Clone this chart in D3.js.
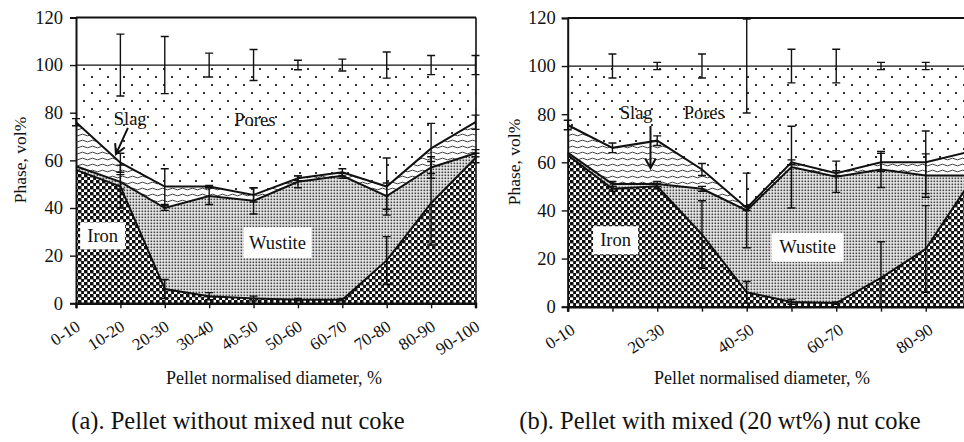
<!DOCTYPE html>
<html>
<head>
<meta charset="utf-8">
<script src="https://cdn.jsdelivr.net/npm/d3@7/dist/d3.min.js"></script>
<style>
  html, body { margin: 0; padding: 0; background: #fff; }
  svg { display: block; }
  text { font-family: "Liberation Serif", "Times New Roman", serif; fill: #111; }
</style>
</head>
<body>
<svg id="chart" width="964" height="442"></svg>
<script>
// ---------------- DATA ----------------
const categories = ["0-10","10-20","20-30","30-40","40-50","50-60","60-70","70-80","80-90","90-100"];
const yTickValues = [0, 20, 40, 60, 80, 100, 120];
const xTickLabelsA = ["0-10","10-20","20-30","30-40","40-50","50-60","60-70","70-80","80-90","90-100"];
const xTickLabelsB = ["0-10","","20-30","","40-50","","60-70","","80-90",""];

// (a) pellet without mixed nut coke — phase vol%
const ironA    = [56, 49, 6, 3, 2, 1.5, 1.5, 18, 42, 61];
const wustiteA = [1.5, 2, 34, 42, 41, 49.5, 52, 27, 15, 2];
const slagA    = [18.5, 8, 9, 4, 2.5, 1.5, 1.5, 4, 8, 13];
const poresA   = [24, 41, 51, 51, 54.5, 47.5, 45, 51, 35, 24];
const errIronA    = [null, 9, 4, 1.5, 1, 0.5, 0.5, 10, 17.5, 2];
const errWustiteA = [null, 3, 1, 3.5, 5.5, 2.5, 1, 5.5, 4.5, 1.5];
const errSlagA    = [1.5, 4, 7.5, 0.5, 3, 1, 1.5, 12, 10.5, 3];
const errPoresA   = [null, 13, 12, 5, 6.5, 2, 2.5, 5.5, 4, 4];

// (b) pellet with mixed (20 wt%) nut coke — phase vol%
const ironB    = [63, 49, 50, 30, 6, 2, 1.5, 12, 24, 52];
const wustiteB = [1, 2, 1, 19, 34, 56, 52.5, 45, 30.5, 2.5];
const slagB    = [11.5, 15, 18, 8, 1, 2, 1.5, 3, 5.5, 10];
const poresB   = [24.5, 34, 31, 43, 59, 40, 44.5, 40, 40, 35.5];
const errIronB    = [null, 1, 1, 14, 4.5, 1, 0.5, 15, 18, 2];
const errWustiteB = [null, 1, 1, 1, 15.5, 17, 6.5, 7.5, 9, 2];
const errSlagB    = [2, 2, 2, 2.5, 1, 1, 1, 3.7, 13, 2];
const errPoresB   = [null, 5, 1.5, 5, 19.5, 7, 7, 1.5, 1.5, 2];

const annotationsA = [
  {text: "Slag",    xi: 1.22, v: 77.5, box: false},
  {text: "Pores",   xi: 4.03, v: 77.0, box: false},
  {text: "Iron",    xi: 0.60, v: 28.3, box: true, w: 45, h: 27},
  {text: "Wustite", xi: 4.54, v: 25.5, box: true, w: 68, h: 31}
];
const arrowA = {from: [1.17, 73.6], to: [0.90, 62.6]};
const annotationsB = [
  {text: "Slag",    xi: 1.53, v: 80.5, box: false},
  {text: "Pores",   xi: 3.05, v: 80.5, box: false},
  {text: "Iron",    xi: 1.07, v: 27.6, box: true, w: 45, h: 28},
  {text: "Wustite", xi: 5.36, v: 24.7, box: true, w: 72, h: 29}
];
const arrowB = {from: [1.85, 75.1], to: [1.85, 57.6]};

// ---------------- PATTERNS ----------------
const FONT = "'Liberation Serif', 'Times New Roman', serif";
const svg = d3.select("#chart");
const defs = svg.append("defs");

const pIron = defs.append("pattern").attr("id","pIron").attr("patternUnits","userSpaceOnUse")
  .attr("width",6).attr("height",6);
pIron.append("rect").attr("width",6).attr("height",6).attr("fill","#fff");
pIron.append("rect").attr("x",0).attr("y",0).attr("width",3.4).attr("height",3.4).attr("fill","#111");
pIron.append("rect").attr("x",3).attr("y",3).attr("width",3.4).attr("height",3.4).attr("fill","#111");
pIron.append("rect").attr("x",3).attr("y",0).attr("width",0.4).attr("height",6).attr("fill","#555");

const pWus = defs.append("pattern").attr("id","pWus").attr("patternUnits","userSpaceOnUse")
  .attr("width",3).attr("height",3);
pWus.append("rect").attr("width",3).attr("height",3).attr("fill","#eee");
pWus.append("rect").attr("x",0.5).attr("y",0.5).attr("width",1.7).attr("height",1.7).attr("fill","#444");

const pSlag = defs.append("pattern").attr("id","pSlag").attr("patternUnits","userSpaceOnUse")
  .attr("width",10).attr("height",6);
pSlag.append("rect").attr("width",10).attr("height",6).attr("fill","#fff");
pSlag.append("path").attr("d","M0,3 Q2.5,1.3 5,3 T10,3").attr("fill","none")
  .attr("stroke","#444").attr("stroke-width",1);

const pPor = defs.append("pattern").attr("id","pPor").attr("patternUnits","userSpaceOnUse")
  .attr("width",16).attr("height",16);
pPor.append("rect").attr("width",16).attr("height",16).attr("fill","#fff");
pPor.append("rect").attr("x",3).attr("y",4).attr("width",2).attr("height",2).attr("fill","#333");
pPor.append("rect").attr("x",11).attr("y",12).attr("width",2).attr("height",2).attr("fill","#333");

const fills = {iron: "url(#pIron)", wustite: "url(#pWus)", slag: "url(#pSlag)", pores: "url(#pPor)"};

function drawPanel(cfg) {
  const g = svg.append("g");
  const x = d3.scalePoint().domain(categories).range([cfg.x0, cfg.x1]);
  const xi = d3.scaleLinear().domain([0, categories.length - 1]).range([cfg.x0, cfg.x1]);
  const y = d3.scaleLinear().domain([0, 120]).range([cfg.y0, cfg.y120]);

  defs.append("clipPath").attr("id", cfg.id + "clip").append("rect")
    .attr("x", cfg.x0 - 10).attr("y", y(120) - 2).attr("width", cfg.frameRight - cfg.x0 + 20).attr("height", y(0) - y(120) + 2);

  const rows = categories.map((c, i) => ({cat: c, iron: cfg.iron[i], wustite: cfg.wustite[i], slag: cfg.slag[i], pores: cfg.pores[i]}));
  const keys = ["iron","wustite","slag","pores"];
  const stack = d3.stack().keys(keys)(rows);

  const area = d3.area().x(d => x(d.data.cat)).y0(d => y(d[0])).y1(d => y(d[1]));
  g.selectAll("path.layer").data(stack).join("path")
    .attr("class","layer").attr("d", area).attr("fill", d => fills[d.key]).attr("stroke","none");

  const line = d3.line().x(d => x(d.data.cat)).y(d => y(d[1]));
  g.selectAll("path.bound").data(stack).join("path")
    .attr("class","bound").attr("d", line).attr("fill","none")
    .attr("stroke","#111").attr("stroke-width", d => d.key === "pores" ? 1.3 : 2);

  g.append("line").attr("x1", cfg.x0).attr("x2", cfg.frameRight).attr("y1", y(120)).attr("y2", y(120))
    .attr("stroke","#111").attr("stroke-width",2);
  g.append("line").attr("x1", cfg.frameRight).attr("x2", cfg.frameRight).attr("y1", y(120)).attr("y2", y(0))
    .attr("stroke","#111").attr("stroke-width",1.6);

  const errs = {iron: cfg.errIron, wustite: cfg.errWustite, slag: cfg.errSlag, pores: cfg.errPores};
  const eAll = g.append("g").attr("clip-path", `url(#${cfg.id}clip)`);
  stack.forEach(layer => {
    const e = errs[layer.key];
    layer.forEach((d, i) => {
      const err = e[i];
      if (err == null) return;
      const cx = x(d.data.cat), v = d[1];
      const eg = eAll.append("g").attr("stroke","#111").attr("stroke-width",1.4);
      eg.append("line").attr("x1",cx).attr("x2",cx).attr("y1",y(v - err)).attr("y2",y(v + err));
      eg.append("line").attr("x1",cx-4).attr("x2",cx+4).attr("y1",y(v - err)).attr("y2",y(v - err));
      eg.append("line").attr("x1",cx-4).attr("x2",cx+4).attr("y1",y(v + err)).attr("y2",y(v + err));
    });
  });

  const yAxis = d3.axisLeft(y).tickValues(yTickValues).tickSize(6).tickPadding(cfg.yPad);
  const ya = g.append("g").attr("transform", `translate(${cfg.x0},0)`).call(yAxis);
  ya.select(".domain").attr("stroke","#111").attr("stroke-width",2);
  ya.selectAll(".tick line").attr("stroke","#111").attr("stroke-width",1.4);
  ya.selectAll(".tick text").style("font-family", FONT).style("font-size","18.5px").attr("fill","#111");

  const xAxis = d3.axisBottom(x).tickSize(5).tickFormat((d, i) => cfg.xLabels[i]);
  const xa = g.append("g").attr("transform", `translate(0,${cfg.y0})`).call(xAxis);
  xa.select(".domain").attr("stroke","#111").attr("stroke-width",2.5);
  xa.selectAll(".tick line").attr("stroke","#111").attr("stroke-width",1.4);
  xa.selectAll(".tick text").style("font-family", FONT).style("font-size","17px").attr("fill","#111")
    .attr("text-anchor","end").attr("dy",0).attr("y",0)
    .attr("transform", `translate(${cfg.xlDx},26) rotate(-33)`);

  cfg.annotations.forEach(a => {
    const cx = xi(a.xi), cy = y(a.v);
    if (a.box) {
      g.append("rect").attr("x", cx - a.w/2).attr("y", cy - a.h/2).attr("width", a.w).attr("height", a.h).attr("fill","#fff");
    }
    g.append("text").attr("x", cx).attr("y", cy).attr("text-anchor","middle").attr("dominant-baseline","central")
      .style("font-family", FONT).style("font-size","18.5px").text(a.text);
  });
  const ax1 = xi(cfg.arrow.from[0]), ay1 = y(cfg.arrow.from[1]);
  const ax2 = xi(cfg.arrow.to[0]), ay2 = y(cfg.arrow.to[1]);
  const ang = Math.atan2(ay2 - ay1, ax2 - ax1);
  const hl = 11, ha = 0.5;
  g.append("path").attr("d",
    `M${ax1},${ay1}L${ax2},${ay2}` +
    `M${ax2 - hl*Math.cos(ang - ha)},${ay2 - hl*Math.sin(ang - ha)}L${ax2},${ay2}` +
    `L${ax2 - hl*Math.cos(ang + ha)},${ay2 - hl*Math.sin(ang + ha)}`)
    .attr("fill","none").attr("stroke","#111").attr("stroke-width",2);

  g.append("text").attr("transform", `translate(${cfg.yTitleX},${cfg.yTitleY}) rotate(-90)`)
    .attr("text-anchor","middle").attr("dominant-baseline","central")
    .style("font-family", FONT).style("font-size","17.5px").text("Phase, vol%");
  g.append("text").attr("x", cfg.xTitleX).attr("y", 384).attr("text-anchor","middle")
    .style("font-family", FONT).style("font-size","18px").text("Pellet normalised diameter, %");
  g.append("text").attr("x", cfg.capX).attr("y", 429).attr("text-anchor","middle")
    .style("font-family", FONT).style("font-size","24.5px").text(cfg.caption);
}

drawPanel({
  id: "a", x0: 76, x1: 475.5, frameRight: 476, y0: 303.3, y120: 17.4, yPad: 7, xlDx: 5,
  iron: ironA, wustite: wustiteA, slag: slagA, pores: poresA,
  errIron: errIronA, errWustite: errWustiteA, errSlag: errSlagA, errPores: errPoresA,
  xLabels: xTickLabelsA, annotations: annotationsA, arrow: arrowA,
  yTitleX: 20, yTitleY: 160, xTitleX: 274, capX: 238,
  caption: "(a). Pellet without mixed nut coke"
});
drawPanel({
  id: "b", x0: 567.7, x1: 970.5, frameRight: 971, y0: 306.7, y120: 17.9, yPad: 6, xlDx: 8,
  iron: ironB, wustite: wustiteB, slag: slagB, pores: poresB,
  errIron: errIronB, errWustite: errWustiteB, errSlag: errSlagB, errPores: errPoresB,
  xLabels: xTickLabelsB, annotations: annotationsB, arrow: arrowB,
  yTitleX: 513.5, yTitleY: 162, xTitleX: 762, capX: 720,
  caption: "(b). Pellet with mixed (20 wt%) nut coke"
});
</script>
</body>
</html>
